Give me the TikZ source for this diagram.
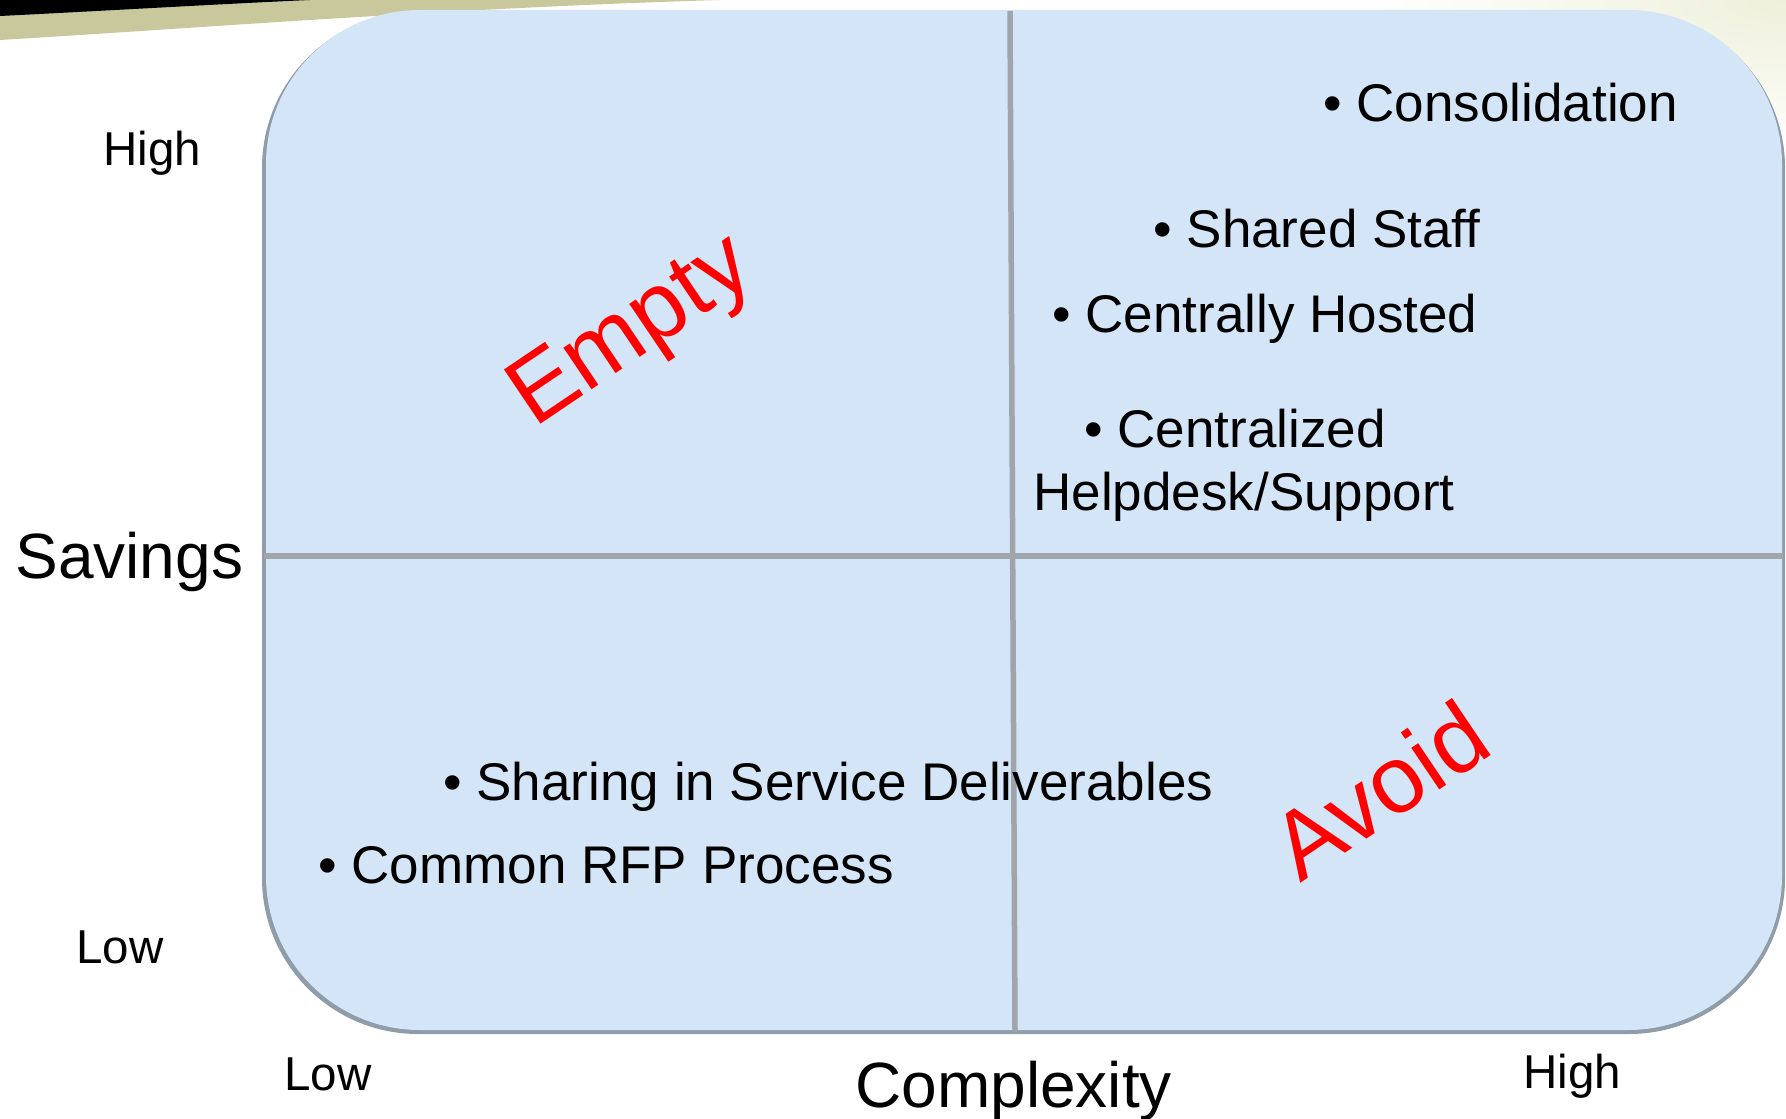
\documentclass[tikz,border=0pt]{standalone}
\usepackage{fontspec}
\setmainfont{Liberation Sans}
\definecolor{boxblue}{HTML}{D3E5F6}
\definecolor{boxrim}{HTML}{8F9CA9}
\definecolor{divgray}{HTML}{A0A5AB}
\definecolor{bandolive}{HTML}{C8C89C}
\definecolor{glow}{HTML}{EEF0DA}
\begin{document}
\begin{tikzpicture}[x=0.5pt,y=-0.5pt,
  item/.style={anchor=base west,inner sep=0,font=\fontsize{26.5}{32}\selectfont},
  axislabel/.style={anchor=base west,inner sep=0,font=\fontsize{23.75}{28}\selectfont},
  axistitle/.style={anchor=base west,inner sep=0,font=\fontsize{32}{38}\selectfont},
  zone/.style={anchor=base west,inner sep=0,red,rotate=34,font=\fontsize{47.5}{56}\selectfont}]
\useasboundingbox (0,0) rectangle (1786,1118);
% banner corner and glow
\shade[inner color=glow, outer color=white] (1786,0) ellipse (420 and 160);
\fill[bandolive] (0,14) -- (0,40) .. controls (200,28) and (450,8) .. (720,0) -- (0,0) -- cycle;
\fill[black] (0,0) -- (0,16) .. controls (120,10) and (220,4) .. (310,0) -- cycle;
% quadrant box
\fill[boxrim, rounded corners=78pt] (262,12) rectangle (1785,1034);
\fill[boxblue, rounded corners=77pt] (266,10) rectangle (1782,1030);
\draw[divgray, line width=2.75pt] (1010,11) -- (1015,1032);
\draw[divgray, line width=2.75pt] (264,556) -- (1783,556);
% axes
\node[axislabel] (hiSav) at (103,166) {High};
\node[axislabel] (loSav) at (76,963) {Low};
\node[axistitle] (sav) at (15,578) {Savings};
\node[axislabel] (loCx) at (284,1090) {Low};
\node[axislabel] (hiCx) at (1523,1088) {High};
\node[axistitle] (cx) at (855,1107) {Complexity};
% items
\node[item] (cons) at (1323,122) {• Consolidation};
\node[item] (staff) at (1153,248) {• Shared Staff};
\node[item] (hosted) at (1052,332) {• Centrally Hosted};
\node[item] (central) at (1084,447) {• Centralized};
\node[item] (helpdesk) at (1033,510) {Helpdesk/Support};
\node[item] (sharing) at (443,800) {• Sharing in Service Deliverables};
\node[item] (rfp) at (318,883) {• Common RFP Process};
% zones
\node[zone] (empty) at (534,429) {Empty};
\node[zone] (avoid) at (1300,884) {Avoid};
\end{tikzpicture}
\end{document}
